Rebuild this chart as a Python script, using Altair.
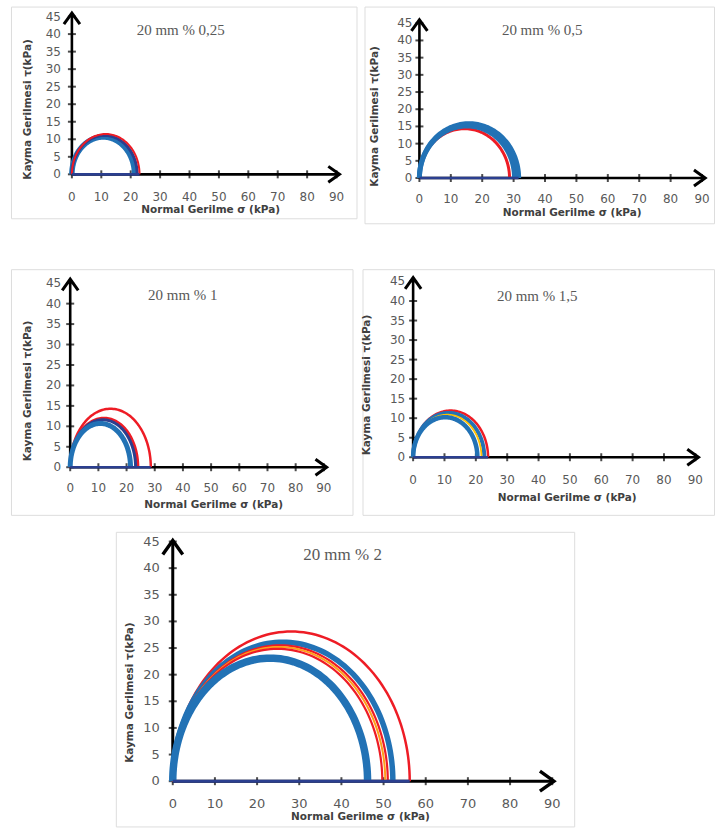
import altair as alt
import pandas as pd

# ---------------- data ----------------
X_TICKS = [0, 10, 20, 30, 40, 50, 60, 70, 80, 90]
Y_TICKS = [0, 5, 10, 15, 20, 25, 30, 35, 40, 45]
X_LABEL = "Normal Gerilme σ (kPa)"
Y_LABEL = "Kayma Gerilmesi τ(kPa)"
PANEL_TITLES = ["20 mm % 0,25", "20 mm % 0,5", "20 mm % 1", "20 mm % 1,5", "20 mm % 2"]

# Mohr circle diameters (sigma1, with sigma3 = 0), drawn back to front
P1_D = [21.3, 22.2, 23.0]
P2_D = [28.7, 30.3, 31.6]
P3_D = [28.6, 24.0, 23.2, 21.4]
P4_D = [23.9, 22.7, 21.8, 20.5]
P5_D = [56.2, 52.2, 51.0, 50.4, 49.7, 46.2]

BLUE, NAVY, RED, YEL, ORG = "#2272b5", "#2b3f8f", "#ee1c25", "#ffc000", "#ff9f1a"
P1_C = [BLUE, NAVY, RED]
P2_C = [RED, BLUE, BLUE]
P3_C = [RED, RED, NAVY, BLUE]
P4_C = [RED, BLUE, YEL, BLUE]
P5_C = [RED, BLUE, RED, ORG, RED, BLUE]

P1_W = [5.5, 3, 2]
P2_W = [3, 5, 5]
P3_W = [2.5, 3, 3, 5]
P4_W = [2.5, 4, 1.8, 4.5]
P5_W = [2.5, 5.5, 2.2, 2, 2.2, 7.5]

X_END = [91, 91, 91, 91, 90.4]
Y_END = [46, 46, 46, 46, 45.2]

PANELS = [
    (P1_D, P1_C, P1_W),
    (P2_D, P2_C, P2_W),
    (P3_D, P3_C, P3_W),
    (P4_D, P4_C, P4_W),
    (P5_D, P5_C, P5_W),
]

# ---------------- layout (page pixels) ----------------
# frame = (left, top, right, bottom); x0/x90 = pixel of sigma 0 / 90; y0/y45 = pixel of tau 0 / 45
LAYOUT = [
    dict(frame=(10, 5, 356, 217), x0=71, x90=336, y0=173, y45=15, title=(180, 28), xt=(210, 209),
         yt=(27, 108), xoff=23, ygap=11, lfs=12, tfs=15, aw=2.6, asz=256),
    dict(frame=(362, 5, 712, 222), x0=417, x90=700, y0=176.7, y45=21.7, title=(540, 28), xt=(570, 212),
         yt=(373, 115), xoff=21, ygap=7, lfs=12, tfs=15, aw=2.6, asz=256),
    dict(frame=(10, 266, 352, 512), x0=69.3, x90=323.3, y0=464.3, y45=280, title=(182, 292), xt=(213, 502),
         yt=(27, 388), xoff=21, ygap=9, lfs=12, tfs=15, aw=2.6, asz=256),
    dict(frame=(360, 266, 712, 512), x0=410.7, x90=693.3, y0=454.3, y45=278.3, title=(535, 293),
         xt=(565, 495), yt=(365, 382), xoff=23, ygap=8, lfs=12, tfs=15, aw=2.6, asz=256),
    dict(frame=(113, 527, 572, 822), x0=170, x90=550, y0=776.7, y45=536.7, title=(340, 550),
         xt=(358, 813), yt=(127, 688), xoff=23, ygap=13, lfs=13, tfs=17, aw=3, asz=400),
]

ARROW_RIGHT = "M-1.4,-1L0,0L-1.4,1"
ARROW_UP = "M-1,1.4L0,0L1,1.4"
TICK_FONT = "DejaVu Sans"
TICK_COLOR = "#595959"


def make_panel(i):
    L = LAYOUT[i]
    Ds, Cs, Ws = PANELS[i]
    fl, ft, fr, fb = L["frame"]
    W, H = fr - fl, fb - ft
    sx = (L["x90"] - L["x0"]) / 90.0
    sy = (L["y0"] - L["y45"]) / 45.0
    xs = alt.Scale(domain=[(fl - L["x0"]) / sx, (fr - L["x0"]) / sx], nice=False, zero=False)
    ys = alt.Scale(domain=[(L["y0"] - fb) / sy, (L["y0"] - ft) / sy], nice=False, zero=False)

    def X(f):
        return alt.X(f, scale=xs, axis=None)

    def Y(f):
        return alt.Y(f, scale=ys, axis=None)

    one = pd.DataFrame({"k": [0]})

    # axis lines
    axes_df = pd.DataFrame({"x0": [0, 0], "x1": [X_END[i], 0], "y0": [0, 0], "y1": [0, Y_END[i]]})
    axis_rules = alt.Chart(axes_df).mark_rule(color="black", strokeWidth=L["aw"]).encode(
        x=X("x0:Q"), x2="x1:Q", y=Y("y0:Q"), y2="y1:Q"
    )

    # ticks and tick labels
    xt_df = pd.DataFrame({"t": X_TICKS, "z": [0] * len(X_TICKS)})
    yt_df = pd.DataFrame({"t": Y_TICKS, "z": [0] * len(Y_TICKS)})
    xticks = alt.Chart(xt_df).mark_tick(orient="vertical", size=8, thickness=2, color="black").encode(
        x=X("t:Q"), y=Y("z:Q"))
    yticks = alt.Chart(yt_df).mark_tick(orient="horizontal", size=8, thickness=2, color="black").encode(
        x=X("z:Q"), y=Y("t:Q"))
    xlabels = alt.Chart(xt_df).mark_text(
        font=TICK_FONT, fontSize=L["lfs"], color=TICK_COLOR, align="center", baseline="middle", dy=L["xoff"]
    ).encode(x=X("t:Q"), y=Y("z:Q"), text="t:Q")
    ylabels = alt.Chart(yt_df).mark_text(
        font=TICK_FONT, fontSize=L["lfs"], color=TICK_COLOR, align="right", baseline="middle", dx=-L["ygap"]
    ).encode(x=X("z:Q"), y=Y("t:Q"), text="t:Q")

    circles = []
    for d, c, w in zip(Ds, Cs, Ws):
        cdf = pd.DataFrame({"D": [d]})
        circles.append(
            alt.Chart(cdf)
            .transform_calculate(deg="sequence(0, 181, 2)")
            .transform_flatten(["deg"])
            .transform_calculate(
                sx="datum.D/2 - datum.D/2*cos(datum.deg*PI/180)",
                ty="datum.D/2*sin(datum.deg*PI/180)",
            )
            .mark_line(color=c, strokeWidth=w)
            .encode(x=X("sx:Q"), y=Y("ty:Q"), order="deg:Q")
        )

    base_df = pd.DataFrame({"D": Ds})
    baseline = (
        alt.Chart(base_df)
        .transform_aggregate(m="max(D)")
        .transform_calculate(z="0")
        .mark_rule(color=NAVY, strokeWidth=L["aw"])
        .encode(x=X("z:Q"), x2="m:Q", y=Y("z:Q"))
    )

    arr_r = alt.Chart(pd.DataFrame({"x": [X_END[i]], "y": [0]})).mark_point(
        shape=ARROW_RIGHT, filled=False, stroke="black", strokeWidth=L["aw"] + 0.4,
        size=L["asz"], opacity=1
    ).encode(x=X("x:Q"), y=Y("y:Q"))
    arr_u = alt.Chart(pd.DataFrame({"x": [0], "y": [Y_END[i]]})).mark_point(
        shape=ARROW_UP, filled=False, stroke="black", strokeWidth=L["aw"] + 0.4,
        size=L["asz"], opacity=1
    ).encode(x=X("x:Q"), y=Y("y:Q"))

    tx, ty = L["title"]
    title = alt.Chart(one).mark_text(
        text=PANEL_TITLES[i], font="Liberation Serif", fontSize=L["tfs"], color="#595959",
        align="center", baseline="middle"
    ).encode(x=alt.value(tx - fl), y=alt.value(ty - ft))

    xx, xy = L["xt"]
    xtitle = alt.Chart(one).mark_text(
        text=X_LABEL, font="DejaVu Sans", fontWeight="bold", fontSize=10.5, color="#404040",
        align="center", baseline="middle"
    ).encode(x=alt.value(xx - fl), y=alt.value(xy - ft))

    yx, yy = L["yt"]
    ytitle = alt.Chart(one).mark_text(
        text=Y_LABEL, font="DejaVu Sans", fontWeight="bold", fontSize=10.5, color="#404040",
        align="center", baseline="middle", angle=270
    ).encode(x=alt.value(yx - fl), y=alt.value(yy - ft))

    return alt.layer(
        axis_rules, xticks, yticks, xlabels, ylabels, *circles, baseline, arr_r, arr_u,
        title, xtitle, ytitle
    ).properties(width=W, height=H)


p1, p2, p3, p4, p5 = [make_panel(i) for i in range(5)]

spacer = alt.Chart(pd.DataFrame({"k": [0]})).mark_point(opacity=0, size=4).encode(
    x=alt.value(50), y=alt.value(5)
).properties(width=LAYOUT[4]["frame"][0] - LAYOUT[0]["frame"][0], height=10,
             view=alt.ViewBackground(stroke="transparent"))

top = alt.hconcat(p1, p2, spacing=6).resolve_scale(x="independent", y="independent")
mid = alt.hconcat(p3, p4, spacing=8).resolve_scale(x="independent", y="independent")
bot = alt.hconcat(spacer, p5, spacing=0).resolve_scale(x="independent", y="independent")
upper = alt.vconcat(top, mid, spacing=44).resolve_scale(x="independent", y="independent")

chart = (
    alt.vconcat(upper, bot, spacing=15)
    .resolve_scale(x="independent", y="independent")
    .properties(padding={"left": 10, "top": 5, "right": 0, "bottom": 0})
    .configure_view(stroke="#d4d4d4", strokeWidth=1)
    .configure(background="white")
)

chart.save("out.html", embed_options={"renderer": "svg", "actions": False})
